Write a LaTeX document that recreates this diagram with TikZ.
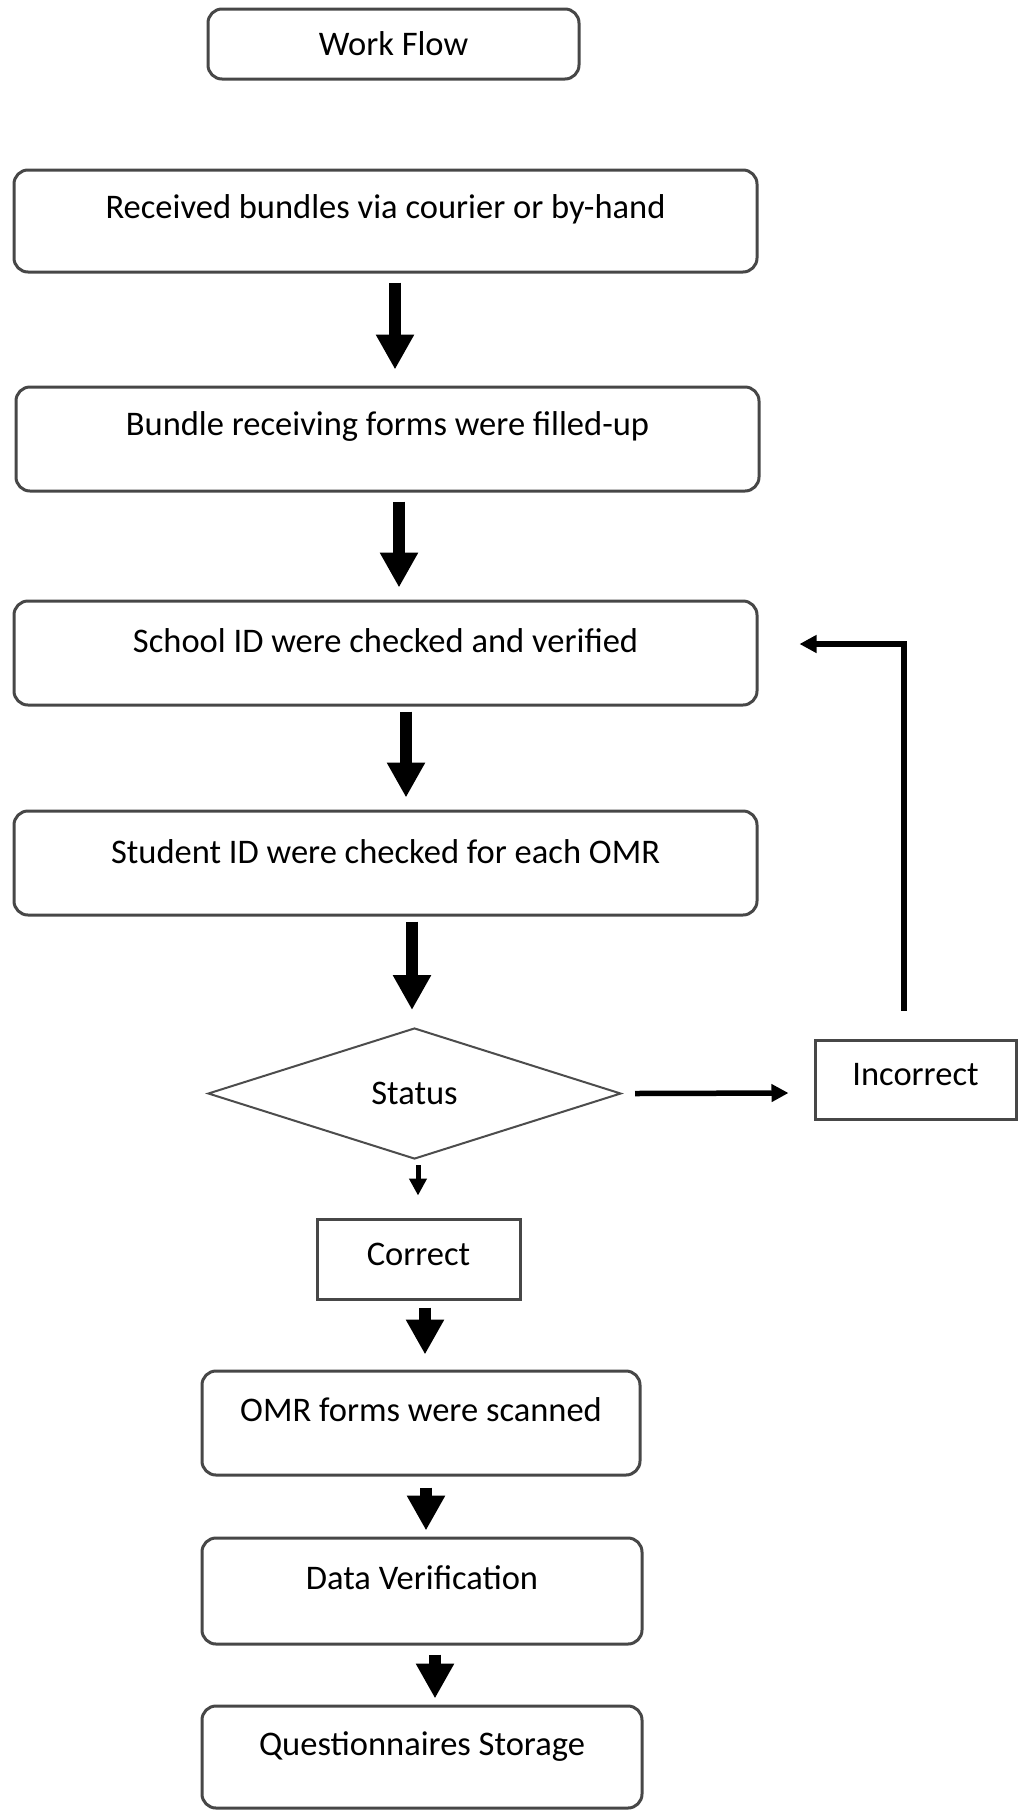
\documentclass[tikz,border=0pt]{standalone}
\usepackage{fontspec}
\setmainfont{Carlito}
\usetikzlibrary{arrows.meta,shapes.geometric,calc}
\begin{document}
\begin{tikzpicture}[x=1pt,y=-1pt,
  every node/.style={font=\fontsize{34.5}{40}\selectfont},
  rbox/.style={draw=black!72, line width=3pt, rounded corners=14pt, fill=white, inner sep=0pt},
  sbox/.style={draw=black!72, line width=3pt, fill=white, inner sep=0pt},
  dbox/.style={diamond, draw=black!70, line width=2pt, fill=white, inner sep=0pt, minimum width=413pt, minimum height=131pt},
  fat/.style={line width=12pt, -{Triangle[width=36pt,length=35pt]}},
  thin/.style={line width=5.5pt, -{Triangle[width=17pt,length=17pt]}},
  thinner/.style={line width=5pt, -{Triangle[width=17pt,length=17pt]}}
]
\useasboundingbox (0,0) rectangle (1018,1810);

\node[rbox, minimum width=371pt, minimum height=70pt] (wf) at (393.5,44) {Work Flow};
\node[rbox, minimum width=743pt, minimum height=102pt,
  label={[yshift=12pt]center:Received bundles via courier or by-hand}] (rec) at (385.5,221) {};
\node[rbox, minimum width=743pt, minimum height=104pt,
  label={[yshift=13pt]center:Bundle receiving forms were filled-up}] (bun) at (387.5,439) {};
\node[rbox, minimum width=743pt, minimum height=104pt,
  label={[yshift=12pt]center:School ID were checked and verified}] (sch) at (385.5,653) {};
\node[rbox, minimum width=743pt, minimum height=104pt,
  label={[yshift=11pt]center:Student ID were checked for each OMR}] (stu) at (385.5,863) {};
\node[dbox] (dia) at (414.5,1093.5) {Status};
\node[sbox, minimum width=201pt, minimum height=79pt,
  label={[yshift=5pt]center:Incorrect}] (inc) at (915.5,1079.5) {};
\node[sbox, minimum width=203pt, minimum height=80pt,
  label={[yshift=5pt]center:Correct}] (cor) at (418.5,1259) {};
\node[rbox, minimum width=438pt, minimum height=104pt,
  label={[yshift=13pt]center:OMR forms were scanned}] (omr) at (421,1423) {};
\node[rbox, minimum width=440pt, minimum height=106pt,
  label={[yshift=13pt]center:Data Verification}] (dat) at (422,1591) {};
\node[rbox, minimum width=440pt, minimum height=102pt,
  label={[yshift=10pt]center:Questionnaires Storage}] (que) at (422,1757) {};

\draw[fat] ($(rec.south)+(9.5,9)$) -- ($(bun.north)+(7.5,-16)$);
\draw[fat] ($(bun.south)+(11.5,9)$) -- ($(sch.north)+(13.5,-12)$);
\draw[fat] ($(sch.south)+(20.5,5)$) -- ($(stu.north)+(20.5,-12)$);
\draw[fat] ($(stu.south)+(26.5,5)$) -- ($(dia.north)+(-2.5,-17)$);
\draw[thinner] ($(dia.south)+(3.5,5)$) -- ($(cor.north)+(-0.5,-22)$);
\draw[fat] ($(cor.south)+(6.5,7)$) -- ($(omr.north)+(4,-15)$);
\draw[fat] ($(omr.south)+(5,11)$) -- ($(dat.north)+(4,-6)$);
\draw[fat] ($(dat.south)+(13,9)$) -- ($(que.north)+(13,-6)$);
\draw[thin] ($(dia.east)+(13,0)$) -- ($(inc.west)+(-25,13.5)$);
\draw[thin] ($(inc.north)+(-11.5,-28)$) |- ($(sch.east)+(41,-9)$);
\end{tikzpicture}
\end{document}
